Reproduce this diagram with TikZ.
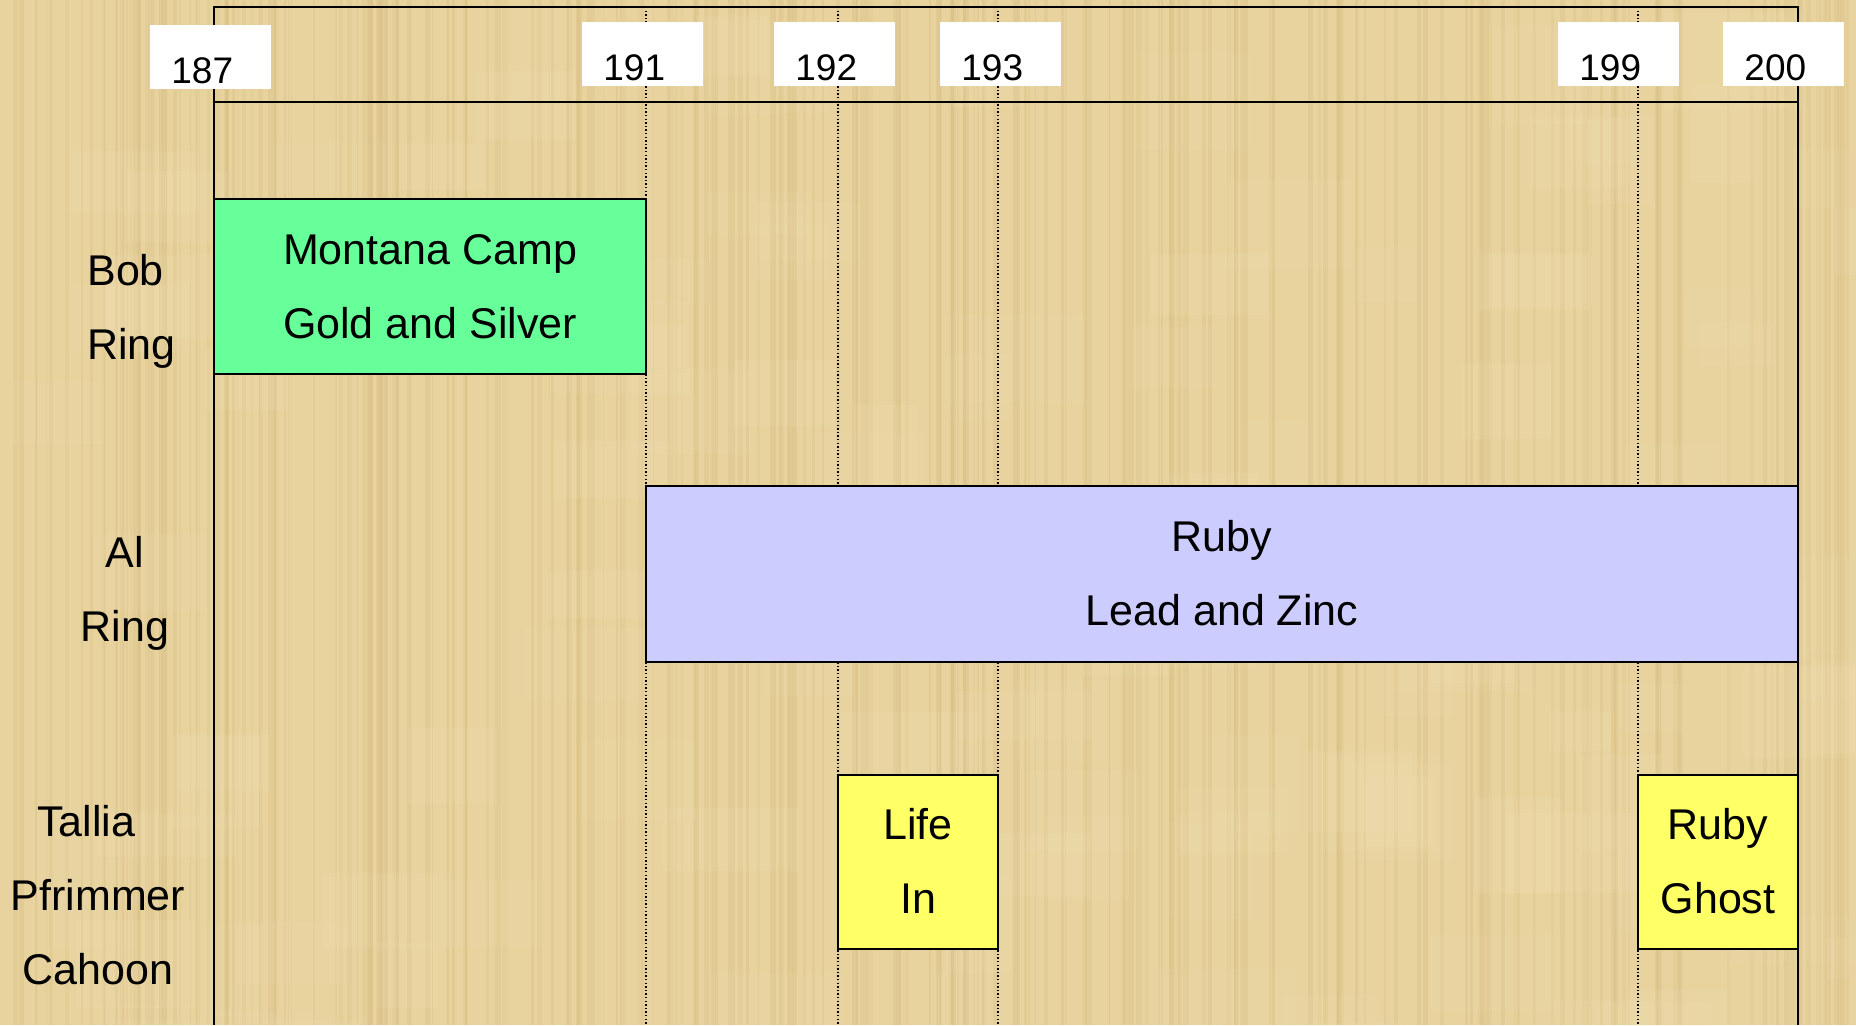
\documentclass[tikz,border=0pt]{standalone}
\usepackage{fontspec}
\setmainfont{Liberation Sans}
\definecolor{papyrus}{RGB}{232,211,158}
\definecolor{papyrusdark}{RGB}{205,178,115}
\definecolor{papyruslight}{RGB}{243,228,190}
\definecolor{campgreen}{RGB}{102,255,153}
\definecolor{rubyblue}{RGB}{204,204,255}
\definecolor{ghostyellow}{RGB}{255,255,102}
\newcommand{\twolines}[2]{\strut #1\\\strut #2}

\begin{document}
\begin{tikzpicture}[x=0.5pt, y=-0.5pt,
    every node/.style={inner sep=0pt},
    bigtext/.style={font=\fontsize{21.5pt}{37pt}\selectfont, align=center},
    bar/.style={bigtext, draw=black, line width=0.9pt, minimum height=87.5pt},
    yearbox/.style={fill=white, anchor=north west, align=left,
        font=\fontsize{18.5pt}{22pt}\selectfont, text width=39.5pt,
        inner xsep=10.5pt, inner ysep=0pt, text height=29pt, text depth=3pt},
    gridline/.style={line width=0.7pt, dash pattern=on 0.7pt off 1.1pt},
    frame/.style={line width=0.9pt}]

    \useasboundingbox (0,0) rectangle (1856,1025);
    % paper background
    \fill[papyrus] (0,0) rectangle (1856,1025);
    \pgfmathsetseed{42}
    \foreach \i in {1,...,260} {
        \pgfmathsetmacro{\sx}{rnd*1856}
        \pgfmathsetmacro{\sw}{1+rnd*5}
        \pgfmathsetmacro{\so}{0.10+rnd*0.15}
        \fill[papyrusdark, opacity=\so] (\sx,0) rectangle ++(\sw,1025);
    }
    \foreach \i in {1,...,120} {
        \pgfmathsetmacro{\sx}{rnd*1856}
        \pgfmathsetmacro{\sy}{rnd*1025}
        \pgfmathsetmacro{\so}{0.06+rnd*0.08}
        \fill[papyruslight, opacity=\so] (\sx,\sy) rectangle ++(60+rnd*80,40+rnd*60);
    }

    % dotted year lines
    \foreach \x in {646, 838, 998, 1638}
        \draw[gridline] (\x,7) -- (\x,1025);

    % frame and axis
    \draw[frame] (214,1025) -- (214,7) -- (1798,7) -- (1798,1025);
    \draw[frame] (214,102) -- (1798,102);

    % year labels
    \foreach \yr/\x/\y in {187/150/25, 191/582/22, 192/774/22,
                           193/940/22, 199/1558/22, 200/1723/22}
        \node[yearbox] (y\yr) at (\x,\y) {\yr};

    % bars
    \node[bar, fill=campgreen, minimum width=216pt] (camp) at (430,286.5)
        {\twolines{Montana Camp}{Gold and Silver}};
    \node[bar, fill=rubyblue, minimum width=576pt, minimum height=88pt] (ruby) at (1222,574)
        {\twolines{Ruby}{Lead and Zinc}};
    \node[bar, fill=ghostyellow, minimum width=80pt, minimum height=87pt] (life) at (918,862)
        {\twolines{Life}{In}};
    \node[bar, fill=ghostyellow, minimum width=80pt, minimum height=87pt] (ghost) at (1718,862)
        {\twolines{Ruby}{Ghost}};

    % people
    \node[bigtext, align=left, anchor=west] (bob) at (87,307.7) {\twolines{Bob}{Ring}};
    \node[bigtext] (al) at (125,589.7) {\twolines{Al}{Ring}};
    \node[bigtext] (tallia) at (98,895.7)
        {\strut Tallia\hspace*{12pt}\\\strut Pfrimmer\\\strut Cahoon};
\end{tikzpicture}
\end{document}
